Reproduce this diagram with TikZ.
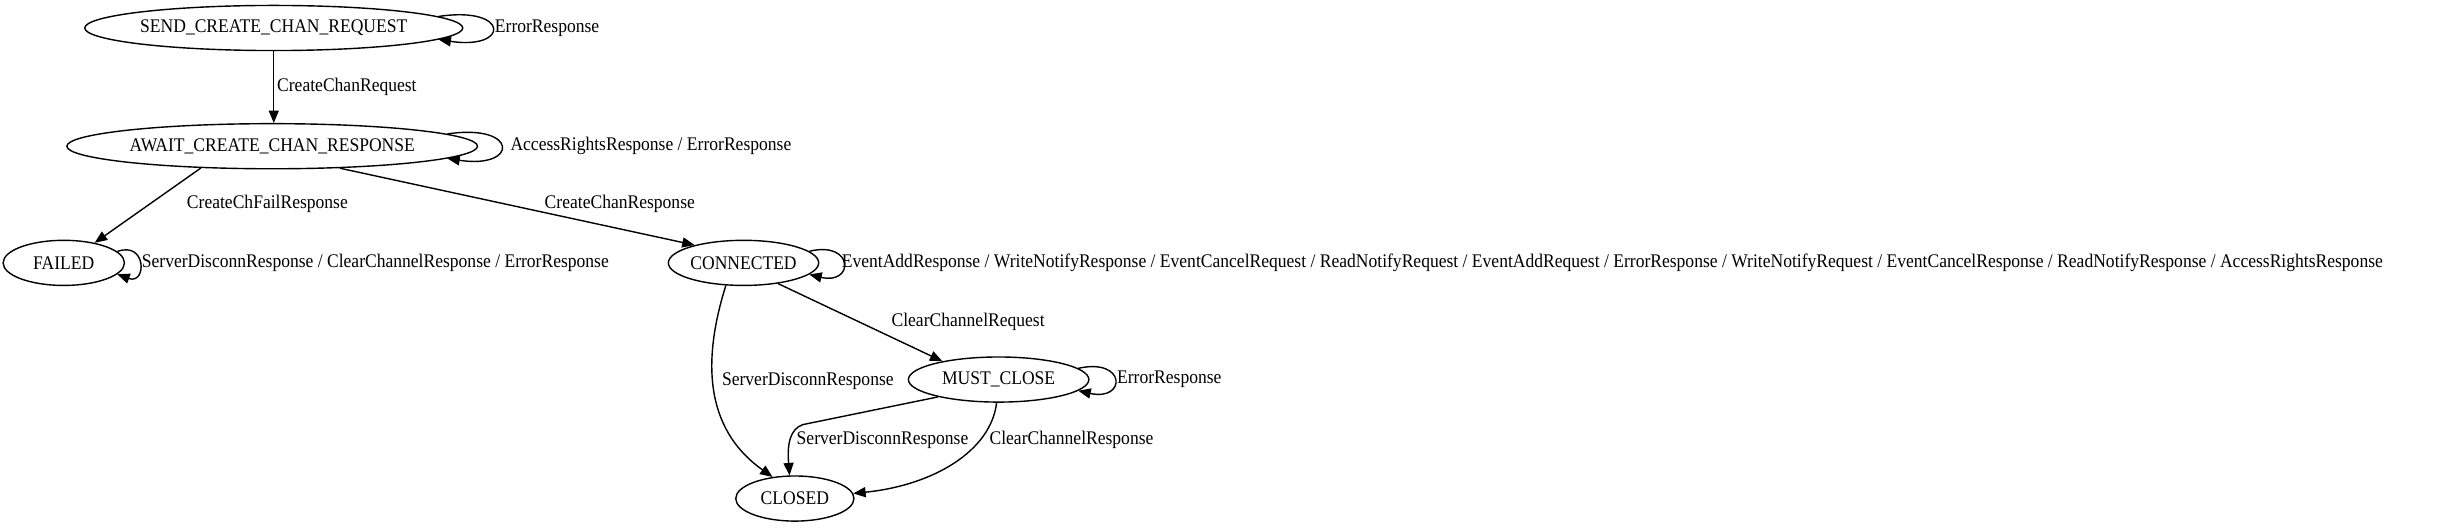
\documentclass[tikz,border=0pt]{standalone}
\usepackage{fontspec}
\setmainfont{Liberation Serif}[FakeStretch=0.91]
\usetikzlibrary{arrows.meta,shapes.geometric}
\begin{document}
\begin{tikzpicture}[x=1pt,y=1pt,
  state/.style={ellipse,draw,line width=0.9pt,inner sep=0pt,minimum height=29pt,font=\fontsize{12.4}{14}\selectfont},
  lbl/.style={anchor=west,inner sep=0pt,font=\fontsize{12.4}{14}\selectfont},
  edge/.style={draw,line width=0.9pt,-{Triangle[length=8pt,width=6.5pt]}}]
\useasboundingbox (0,0) rectangle (1568,-339.4);
\node[state,minimum width=243pt] (s) at (176,-18) {SEND\_CREATE\_CHAN\_REQUEST};
\node[state,minimum width=264pt] (a) at (175,-94) {AWAIT\_CREATE\_CHAN\_RESPONSE};
\node[state,minimum width=78pt] (f) at (41,-169) {FAILED};
\node[state,minimum width=90pt] (c) at (478,-169) {CONNECTED};
\node[state,minimum width=116pt] (m) at (642,-244) {MUST\_CLOSE};
\node[state,minimum width=76pt] (cl) at (511,-320.5) {CLOSED};
\coordinate (k1) at (516,-273);
% edges
\draw[edge] (s.south) -- (s.south |- a.north);
\draw[edge] (s.4) .. controls +(46,7) and +(46,-7) .. (s.-4);
\draw[edge] (a.4) .. controls +(46,7) and +(46,-7) .. (a.-4);
\draw[edge] (a.197) -- (f.33);
\draw[edge] (a.-18) -- (c.160);
\draw[edge] (f.12) .. controls +(19,7) and +(19,-7) .. (f.-12);
\draw[edge] (c.10) .. controls +(29,7) and +(29,-7) .. (c.-10);
\draw[edge] (c.-31) -- (m.162);
\draw[edge] (c.232) .. controls (452,-230) and (452,-275) .. (cl.136);
\draw[edge] (m.8) .. controls +(31,7) and +(31,-7) .. (m.-8);
\draw[edge] (m.196) -- (k1) .. controls (508,-276) and (506,-285) .. (cl.103);
\draw[edge] (m.265) .. controls (637,-290) and (600,-312) .. (cl.5);
% labels
\node[lbl] (l1) at (318,-18) {ErrorResponse};
\node[lbl] (l2) at (178,-56) {CreateChanRequest};
\node[lbl] (l3) at (328,-94) {AccessRightsResponse / ErrorResponse};
\node[lbl] (l4) at (120,-131) {CreateChFailResponse};
\node[lbl] (l5) at (350,-131) {CreateChanResponse};
\node[lbl] (l6) at (91,-169) {ServerDisconnResponse / ClearChannelResponse / ErrorResponse};
\node[lbl] (l7) at (541,-169) {EventAddResponse / WriteNotifyResponse / EventCancelRequest / ReadNotifyRequest / EventAddRequest / ErrorResponse / WriteNotifyRequest / EventCancelResponse / ReadNotifyResponse / AccessRightsResponse};
\node[lbl] (l8) at (573,-207) {ClearChannelRequest};
\node[lbl] (l9) at (464,-245) {ServerDisconnResponse};
\node[lbl] (l10) at (718,-244) {ErrorResponse};
\node[lbl] (l11) at (512,-283) {ServerDisconnResponse};
\node[lbl] (l12) at (636,-283) {ClearChannelResponse};
\end{tikzpicture}
\end{document}
